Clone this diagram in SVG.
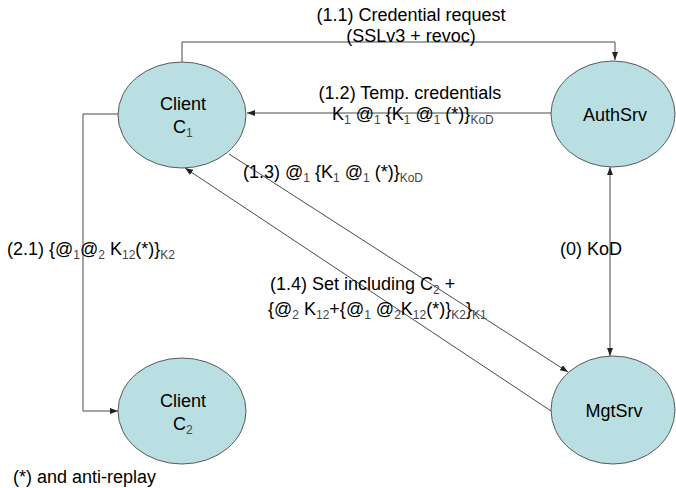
<svg xmlns="http://www.w3.org/2000/svg" width="676" height="488" viewBox="0 0 676 488">
  <style>
    .node { fill: #b9dfe3; stroke: #5a5a5a; stroke-width: 1; }
    .lbl { font-family: "Liberation Sans", Arial, sans-serif; font-size: 18px; fill: #000; }
    .sub { font-size: 12px; fill: #444; }
    .edge { fill: none; stroke: #4a4a4a; stroke-width: 1; }
  </style>
  <defs>
    <marker id="arrow" viewBox="0 0 8 6" refX="8" refY="3" markerWidth="8" markerHeight="6" markerUnits="userSpaceOnUse" orient="auto-start-reverse">
      <path d="M0,0 L8,3 L0,6 Z" fill="#222"/>
    </marker>
  </defs>
  <rect width="676" height="488" fill="#fff"/>

  <g id="connectors">
    <!-- (1.1) credential request: C1 -> AuthSrv over the top -->
    <path class="edge" d="M182,62 V42 H615 V60" marker-end="url(#arrow)"/>
    <!-- (1.2) temp credentials: AuthSrv -> C1 -->
    <path class="edge" d="M551,113 H247" marker-end="url(#arrow)"/>
    <!-- (2.1) C1 -> C2 down the left side -->
    <path class="edge" d="M118,114 H83 V411 H118" marker-end="url(#arrow)"/>
    <!-- (0) KoD between AuthSrv and MgtSrv -->
    <path class="edge" d="M610,167 V356" marker-start="url(#arrow)" marker-end="url(#arrow)"/>
    <!-- (1.3) C1 -> MgtSrv -->
    <path class="edge" d="M229,154 L568,372" marker-end="url(#arrow)"/>
    <!-- (1.4) MgtSrv -> C1 -->
    <path class="edge" d="M551,411 L185,168" marker-end="url(#arrow)"/>
  </g>

  <g id="client-c1">
    <ellipse class="node" cx="182" cy="115" rx="64" ry="53"/>
    <text class="lbl" x="183" y="110" text-anchor="middle">Client</text>
    <text class="lbl" x="173" y="133">C<tspan class="sub" dy="4">1</tspan></text>
  </g>

  <g id="authsrv">
    <ellipse class="node" cx="613" cy="114" rx="62" ry="53"/>
    <text class="lbl" x="615" y="121" text-anchor="middle">AuthSrv</text>
  </g>

  <g id="client-c2">
    <ellipse class="node" cx="182" cy="411" rx="64" ry="53"/>
    <text class="lbl" x="183" y="407" text-anchor="middle">Client</text>
    <text class="lbl" x="173" y="430">C<tspan class="sub" dy="4">2</tspan></text>
  </g>

  <g id="mgtsrv">
    <ellipse class="node" cx="613" cy="410" rx="62" ry="54"/>
    <text class="lbl" x="614" y="417" text-anchor="middle">MgtSrv</text>
  </g>

  <g id="labels">
    <text class="lbl" x="411" y="21" text-anchor="middle">(1.1) Credential request</text>
    <text class="lbl" x="411" y="42" text-anchor="middle">(SSLv3 + revoc)</text>

    <text class="lbl" x="410" y="99" text-anchor="middle">(1.2) Temp. credentials</text>
    <text class="lbl" x="332" y="120">K<tspan class="sub" dy="4">1</tspan><tspan dy="-4"> @</tspan><tspan class="sub" dy="4">1</tspan><tspan dy="-4"> {K</tspan><tspan class="sub" dy="4">1</tspan><tspan dy="-4"> @</tspan><tspan class="sub" dy="4">1</tspan><tspan dy="-4"> (*)}</tspan><tspan class="sub" dy="4">KoD</tspan></text>

    <text class="lbl" x="243" y="178">(1.3) @<tspan class="sub" dy="4">1</tspan><tspan dy="-4"> {K</tspan><tspan class="sub" dy="4">1</tspan><tspan dy="-4"> @</tspan><tspan class="sub" dy="4">1</tspan><tspan dy="-4"> (*)}</tspan><tspan class="sub" dy="4">KoD</tspan></text>

    <text class="lbl" x="270" y="290">(1.4) Set including C<tspan class="sub" dy="4">2</tspan><tspan dy="-4"> +</tspan></text>
    <text class="lbl" x="268" y="315">{@<tspan class="sub" dy="4">2</tspan><tspan dy="-4"> K</tspan><tspan class="sub" dy="4">12</tspan><tspan dy="-4">+{@</tspan><tspan class="sub" dy="4">1</tspan><tspan dy="-4"> @</tspan><tspan class="sub" dy="4">2</tspan><tspan dy="-4">K</tspan><tspan class="sub" dy="4">12</tspan><tspan dy="-4">(*)}</tspan><tspan class="sub" dy="4">K2</tspan><tspan dy="-4">}</tspan><tspan class="sub" dy="4">K1</tspan></text>

    <text class="lbl" x="7" y="255">(2.1) {@<tspan class="sub" dy="4">1</tspan><tspan dy="-4">@</tspan><tspan class="sub" dy="4">2</tspan><tspan dy="-4"> K</tspan><tspan class="sub" dy="4">12</tspan><tspan dy="-4">(*)}</tspan><tspan class="sub" dy="4">K2</tspan></text>

    <text class="lbl" x="560" y="255">(0) KoD</text>

    <text class="lbl" x="13" y="483">(*) and anti-replay</text>
  </g>
</svg>
